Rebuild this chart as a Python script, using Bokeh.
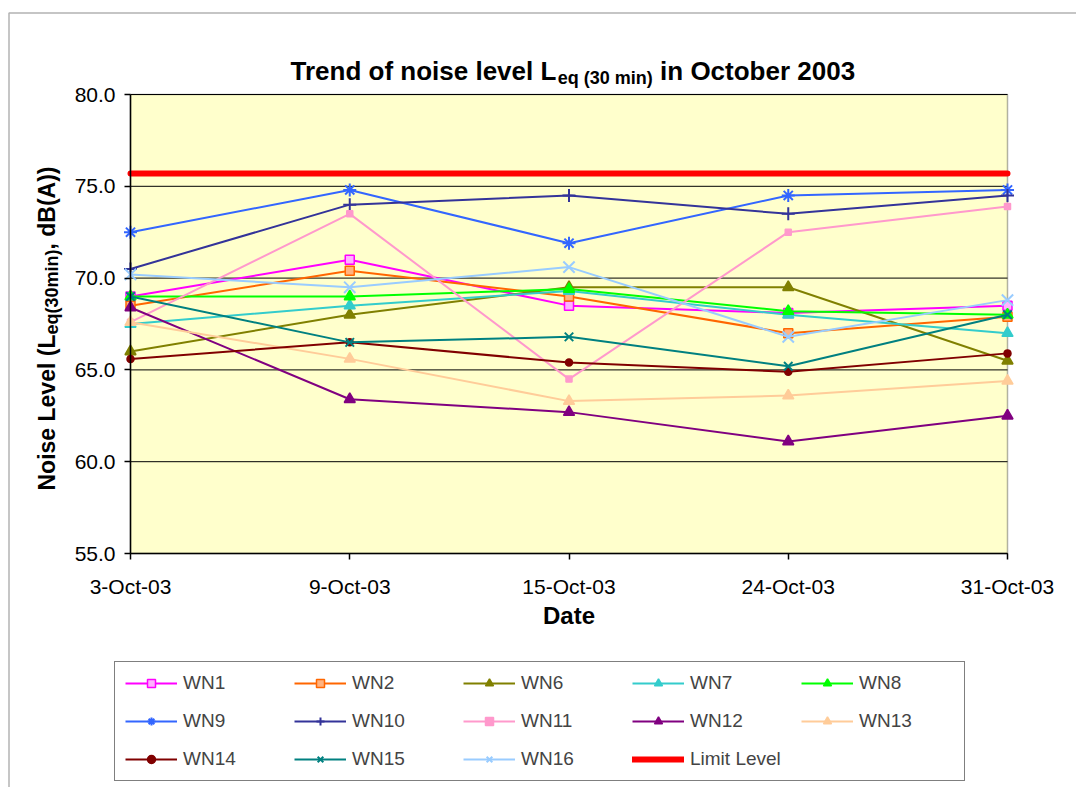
import math
from bokeh.plotting import figure
from bokeh.models import (Range1d, FixedTicker, Label, Legend, LegendItem,
                          BoxAnnotation, PrintfTickFormatter, ColumnDataSource)
from bokeh.embed import file_html
from bokeh.resources import INLINE

# ---------------- data ----------------
dates = ["3-Oct-03", "9-Oct-03", "15-Oct-03", "24-Oct-03", "31-Oct-03"]
wn1 = [69.0, 71.0, 68.5, 68.1, 68.5]
wn2 = [68.5, 70.4, 69.0, 67.0, 67.9]
wn6 = [66.0, 68.0, 69.5, 69.5, 65.5]
wn7 = [67.5, 68.5, 69.3, 68.0, 67.0]
wn8 = [69.0, 69.0, 69.4, 68.2, 68.0]
wn9 = [72.5, 74.8, 71.9, 74.5, 74.8]
wn10 = [70.5, 74.0, 74.5, 73.5, 74.5]
wn11 = [67.6, 73.5, 64.5, 72.5, 73.9]
wn12 = [68.4, 63.4, 62.7, 61.1, 62.5]
wn13 = [67.6, 65.6, 63.3, 63.6, 64.4]
wn14 = [65.6, 66.5, 65.4, 64.9, 65.9]
wn15 = [69.0, 66.5, 66.8, 65.2, 68.0]
wn16 = [70.2, 69.5, 70.6, 66.8, 68.8]
limit_level = [75.7, 75.7, 75.7, 75.7, 75.7]
y_ticks = [55, 60, 65, 70, 75, 80]
y_min, y_max = 55, 80

series = [
    ("WN1", wn1, "#FF00FF", "square", "#FFB3FF", 9),
    ("WN2", wn2, "#FF6600", "square", "#FFB380", 9),
    ("WN6", wn6, "#808000", "triangle", "#808000", 11),
    ("WN7", wn7, "#33CCCC", "triangle", "#33CCCC", 11),
    ("WN8", wn8, "#00FF00", "triangle", "#00FF00", 11),
    ("WN9", wn9, "#3366FF", "asterisk", "#3366FF", 13),
    ("WN10", wn10, "#333399", "cross", "#333399", 13),
    ("WN11", wn11, "#FF99CC", "square", "#FF99CC", 6),
    ("WN12", wn12, "#800080", "triangle", "#800080", 11),
    ("WN13", wn13, "#FFCC99", "triangle", "#FFCC99", 11),
    ("WN14", wn14, "#800000", "circle", "#800000", 7),
    ("WN15", wn15, "#008080", "x", "#008080", 12),
    ("WN16", wn16, "#99CCFF", "x", "#99CCFF", 16),
]

FONT = "Liberation Sans"

# plot-area geometry on the canvas (px); the frame spans the whole canvas
CW, CH = 1076, 787
FL, FR, FT, FB = 130, 1007, 94, 553
NX = len(dates) - 1


def X(px):
    return (px - FL) / (FR - FL) * NX


def Y(py):
    return y_max - (py - FT) / (FB - FT) * (y_max - y_min)


p = figure(width=CW, height=CH, x_range=Range1d(X(0), X(CW)), y_range=Range1d(Y(CH), Y(0)),
           output_backend="svg", toolbar_location=None, title=None,
           min_border_left=0, min_border_right=0, min_border_top=0, min_border_bottom=0,
           background_fill_color="white", border_fill_color="white",
           outline_line_color=None)
p.xgrid.visible = False
p.ygrid.visible = False

# plot area
p.add_layout(BoxAnnotation(left=0, right=NX, bottom=y_min, top=y_max,
                           fill_color="#FFFFCC", fill_alpha=1.0, line_color="black",
                           line_width=1.5, level="underlay"))
# outer chart border
p.add_layout(BoxAnnotation(left=X(8.5), top=Y(12.5), right=X(CW + 300), bottom=Y(CH + 300),
                           fill_color=None, fill_alpha=0, line_color="black",
                           line_width=1.5, level="underlay"))

# horizontal gridlines
p.segment(x0=[0] * len(y_ticks), x1=[NX] * len(y_ticks), y0=y_ticks, y1=y_ticks,
          line_color="black", line_width=1)

# axes fixed at the plot-area edges
p.yaxis.fixed_location = 0
p.yaxis.bounds = (y_min, y_max)
p.yaxis.ticker = FixedTicker(ticks=y_ticks)
p.yaxis.formatter = PrintfTickFormatter(format="%.1f")
p.xaxis.fixed_location = y_min
p.xaxis.bounds = (0, NX)
p.xaxis.ticker = FixedTicker(ticks=list(range(len(dates))))
p.xaxis.major_label_overrides = {i: d for i, d in enumerate(dates)}
for ax in (p.xaxis[0], p.yaxis[0]):
    ax.axis_line_color = "black"
    ax.axis_line_width = 1.5
    ax.major_tick_line_color = "black"
    ax.major_tick_line_width = 1.5
    ax.major_tick_out = 6
    ax.major_tick_in = 0
    ax.minor_tick_line_color = None
    ax.major_label_text_font = FONT
    ax.major_label_text_font_size = "21px"
    ax.major_label_text_color = "black"
p.yaxis.major_label_standoff = 9
p.xaxis.major_label_standoff = 15
p.xaxis.axis_label = "Date"
p.xaxis.axis_label_text_font = FONT
p.xaxis.axis_label_text_font_style = "bold"
p.xaxis.axis_label_text_font_size = "24px"
p.xaxis.axis_label_text_color = "black"
p.xaxis.axis_label_standoff = 1

x = list(range(len(dates)))
items = []
for name, vals, col, mk, fill, sz in series:
    src = ColumnDataSource(dict(x=x, y=vals))
    r1 = p.line("x", "y", source=src, line_color=col, line_width=2)
    r2 = p.scatter("x", "y", source=src, marker=mk, size=sz, line_color=col,
                   fill_color=fill, line_width=2 if mk in ("asterisk", "cross", "x") else 1.5)
    items.append(LegendItem(label=name, renderers=[r1, r2]))

rl = p.line(x, limit_level, line_color="#FF0000", line_width=6, line_cap="round")
items.append(LegendItem(label="Limit Level", renderers=[rl]))

legend = Legend(items=items, orientation="horizontal", ncols=5,
                location=(114, CH - 781),
                glyph_width=52, glyph_height=20, label_height=20, label_width=95,
                label_standoff=6, spacing=16, padding=10,
                label_text_font=FONT, label_text_font_size="19px",
                border_line_color="black", border_line_width=1.5,
                background_fill_color="white", background_fill_alpha=1.0)
p.add_layout(legend, "center")

# Arial/Liberation Sans bold advance widths (em) used to chain text pieces
BOLD = {' ': .278, 'T': .611, 'r': .389, 'e': .556, 'n': .611, 'd': .611, 'o': .611,
        'f': .333, 'i': .278, 's': .556, 'l': .278, 'v': .556, 'L': .611, 'q': .611,
        '(': .333, ')': .333, '3': .556, '0': .556, '2': .556, 'm': .889, 'O': .778,
        'c': .556, 't': .333, 'b': .611, 'N': .722, ',': .278, 'B': .722, 'A': .722}


def tw(s, size):
    return sum(BOLD.get(ch, .6) for ch in s) * size


# title with subscript: (text, font px, centre-line offset px)
title_parts = [("Trend of noise level L", 26, 0), ("eq (30 min)", 18, 7), (" in October 2003", 26, 0)]
cx = 290
for txt, sz, dy in title_parts:
    lead = len(txt) - len(txt.lstrip(" "))
    cx += tw(" " * lead, sz)
    body = txt.strip(" ")
    p.add_layout(Label(x=X(cx), y=Y(70 + dy), text=body, text_font=FONT,
                       text_font_style="bold", text_font_size=f"{sz}px",
                       text_align="left", text_baseline="middle", text_color="black"))
    cx += tw(body, sz)

# rotated y axis label with subscript: (text, font px, centre-line offset px)
ylab_parts = [("Noise Level (L", 23, 0), ("eq(30min)", 18, 5), (", dB(A))", 23, 0)]
cy = 490
for txt, sz, dx in ylab_parts:
    p.add_layout(Label(x=X(46 + dx), y=Y(cy), text=txt, text_font=FONT,
                       text_font_style="bold", text_font_size=f"{sz}px", angle=math.pi / 2,
                       text_align="left", text_baseline="middle", text_color="black"))
    cy -= tw(txt, sz)

open("out.html", "w").write(file_html(p, INLINE))
